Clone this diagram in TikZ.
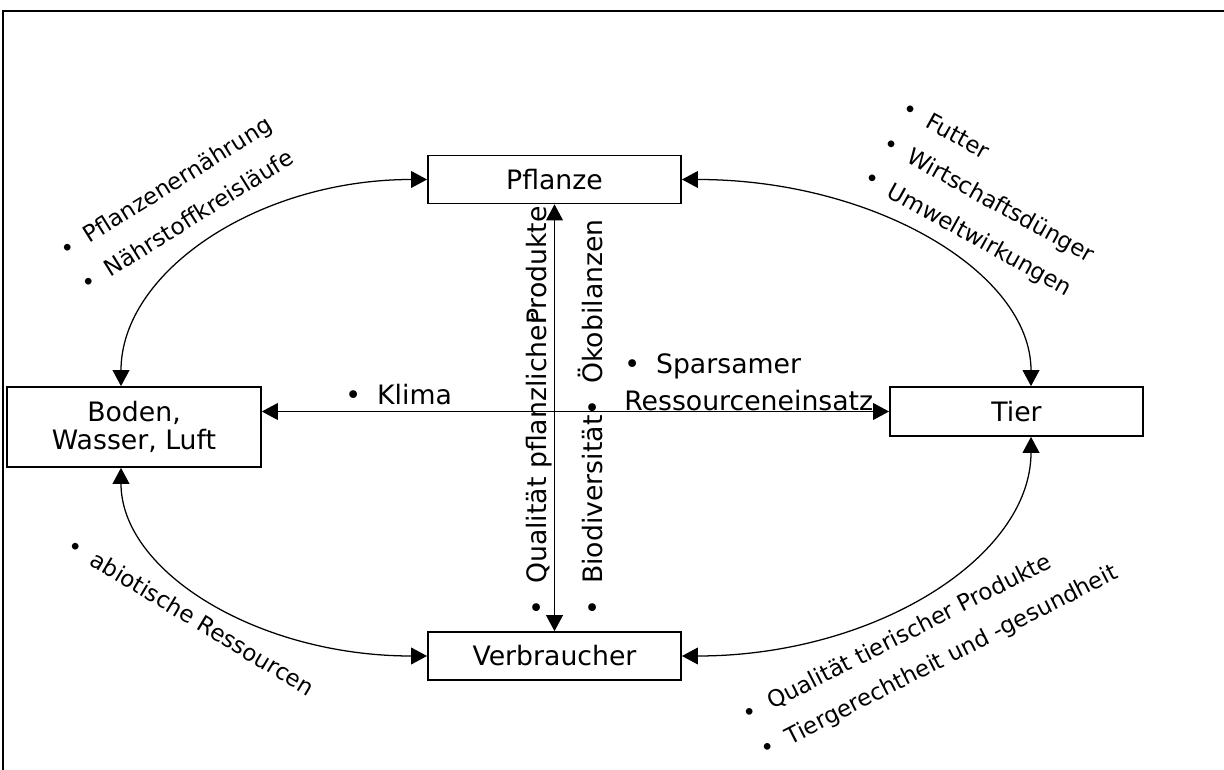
\documentclass[tikz,border=0pt]{standalone}
\usepackage{fontspec}
\setmainfont{DejaVu Sans}
\usetikzlibrary{arrows.meta}

\newcommand{\pkt}{\textbullet\hspace{0.6em}}

\tikzset{
  kasten/.style={draw, line width=1.2pt, minimum width=6.33cm, minimum height=1.2cm,
    inner sep=0pt, align=center, font=\fontsize{19}{19.8}\selectfont},
  pfeil/.style={<->, >={Triangle[length=0.4cm,width=0.42cm]}, line width=0.9pt},
  gross/.style={inner sep=0pt, font=\fontsize{19}{26.2}\selectfont},
  klein/.style={inner sep=0pt, anchor=north west, align=left, font=\fontsize{16.3}{28.2}\selectfont},
}

\begin{document}
\begin{tikzpicture}
\useasboundingbox (0,0) rectangle (30.6,19.225);

% Rahmen
\def\xr{0.075}
\def\yr{18.95}
\draw[line width=1.5pt] (\xr,-1) -- (\xr,\yr) -- (31.5,\yr);

\def\xm{13.8625};
\def\xl{3.35};
\def\xt{25.4125};
\def\yo{14.7375};
\def\yu{2.825};

\node[kasten] (pflanze) at (\xm,\yo) {Pflanze};
\node[kasten] (verbraucher) at (\xm,\yu) {Verbraucher};
\node[kasten, minimum width=6.35cm, minimum height=2cm] (boden) at (\xl,8.55) {Boden,\\Wasser, Luft};
\node[kasten, minimum height=1.225cm] (tier) at (\xt,8.9375) {Tier};

% Pfeile
\draw[pfeil] (pflanze.south) -- (verbraucher.north);
\draw[pfeil] (boden.east |- tier.west) -- (tier.west);
\draw[pfeil] ([xshift=-0.325cm]boden.north) to[out=90,in=180,out looseness=0.79,in looseness=1.17] (pflanze.west);
\draw[pfeil] (pflanze.east) to[out=0,in=90,out looseness=1.21,in looseness=0.72] ([xshift=0.3625cm]tier.north);
\draw[pfeil] ([xshift=0.3625cm]tier.south) to[out=-90,in=0,out looseness=0.75,in looseness=1.19] (verbraucher.east);
\draw[pfeil] (verbraucher.west) to[out=180,in=-90,out looseness=1.2,in looseness=0.74] ([xshift=-0.325cm]boden.south);

% Stichworte
\node[gross, rotate=90, anchor=base west] (qual) at (13.66,3.8275) {\pkt Qualität pflanzliche\rlap{r}Produkte};
\node[gross, rotate=90, anchor=base west] (bio) at (15.06,3.8275) {\pkt Biodiversität\pkt Ökobilanzen};
\node[gross, anchor=base west] (klima) at (8.6275,9.115) {\pkt Klima};
\node[gross, anchor=north west, align=left] (spar) at (15.6,10.395) {\pkt Sparsamer\\Ressourceneinsatz};

\node[klein, rotate=32] (pflanzliste) at (1.431,13.136) {\pkt Pflanzenernährung\\\pkt Nährstoffkreisläufe};
\node[klein, rotate=-29] (tierliste) at (22.712,16.762) {\pkt Futter\\\pkt Wirtschaftsdünger\\\pkt Umweltwirkungen};
\node[klein, rotate=-31, anchor=base west] (bodenliste) at (1.626,5.465) {\pkt abiotische Ressourcen};
\node[klein, rotate=27] (verbrliste) at (18.492,1.559) {\pkt Qualität tierischer Produkte\\\pkt Tiergerechtheit und -gesundheit};

\end{tikzpicture}
\end{document}
